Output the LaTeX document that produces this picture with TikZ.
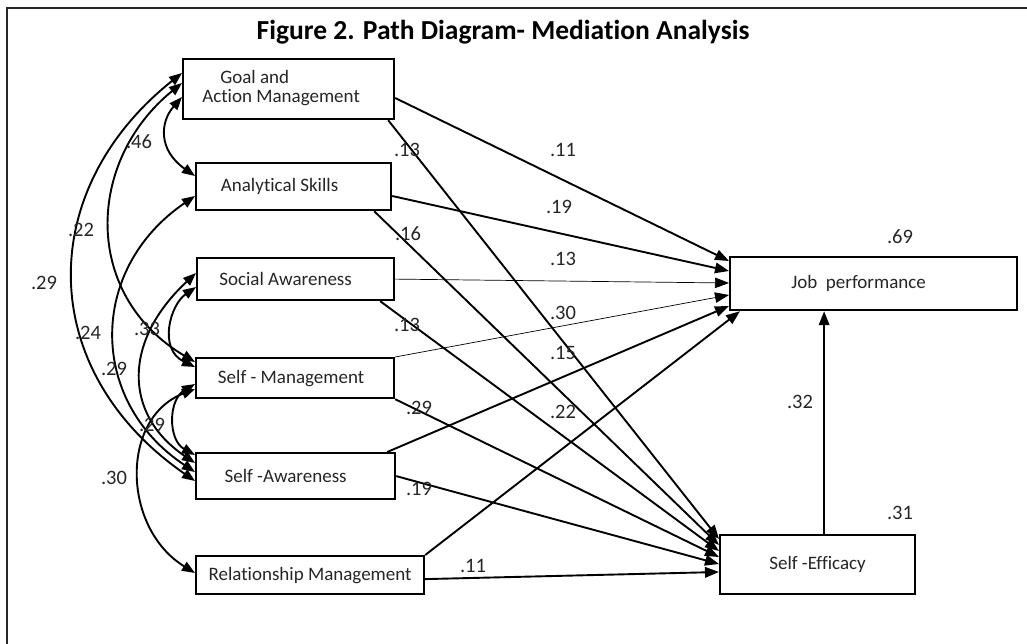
\documentclass[tikz,border=0pt]{standalone}
\usepackage{fontspec}
\setmainfont{Carlito}[Ligatures={NoCommon}]
\usetikzlibrary{arrows.meta,calc}
\begin{document}
\begin{tikzpicture}[x=1pt,y=-1pt,
  box/.style={draw, line width=2.2pt, anchor=north west, inner sep=0pt, font=\fontsize{19}{19}\selectfont, text=black!85},
  num/.style={font=\fontsize{20.5}{20.5}\selectfont, text=black!85, inner sep=0pt},
  reg/.style={line width=1.9pt, -{Triangle[length=14pt,width=10.5pt]}},
  thinreg/.style={line width=0.7pt, -{Triangle[length=14pt,width=10.5pt]}},
  cov/.style={line width=1.9pt, {Triangle[length=13pt,width=10pt]}-{Triangle[length=13pt,width=10pt]}},
]
\path[use as bounding box] (0,0) rectangle (1027,643);
\clip (0,0) rectangle (1027,643);
\fill[white] (0,0) rectangle (1027,643);
\draw[line width=2.2pt, black!85] (7,660) -- (7,8) -- (1040,8);

\node[font=\bfseries\fontsize{27.5}{27.5}\selectfont] (title) at (503,32) {Figure 2. Path Diagram- Mediation Analysis};

% boxes
\node[box, minimum width=211pt, minimum height=60pt] (goal) at (182,58) {\begin{tabular}{@{}l@{}}\hspace*{18pt}Goal and\\Action Management\end{tabular}\hspace*{15pt}};
\node[box, minimum width=195pt, minimum height=47pt] (anal) at (195,162) {Analytical Skills\hspace*{28pt}};
\node[box, minimum width=197pt, minimum height=42pt] (soc) at (196,257) {Social Awareness\hspace*{20pt}};
\node[box, minimum width=198pt, minimum height=40pt] (sm) at (195,357) {Self - Management\hspace*{8pt}};
\node[box, minimum width=199pt, minimum height=46pt] (sa) at (195,452) {Self -Awareness\hspace*{20pt}};
\node[box, minimum width=228pt, minimum height=38pt] (rm) at (195,555) {Relationship Management};
\node[box, minimum width=287pt, minimum height=53pt] (jp) at (729,256) {Job\hspace{0.45em}performance\hspace*{30pt}};
\node[box, minimum width=195pt, minimum height=59pt] (se) at (719,534) {Self -Efficacy};

% paths to job performance
\draw[reg] ($(goal.north east)+(0,40)$) -- ($(jp.north west)+(0,5)$);
\draw[reg] ($(anal.north east)+(0,34)$) -- ($(jp.north west)+(0,15)$);
\draw[thinreg] (soc.east) -- ($(jp.north west)+(0,27)$);
\draw[thinreg] (sm.north east) -- ($(jp.north west)+(0,39)$);
\draw[reg] ($(sa.north east)+(-9,0)$) -- ($(jp.north west)+(0,50)$);
\draw[reg] (rm.north east) -- ($(jp.south west)+(11,0)$);

% paths to self-efficacy
\draw[reg] ($(goal.south east)+(-7,0)$) -- ($(se.north west)+(0,5)$);
\draw[reg] ($(anal.south east)+(-18,0)$) -- ($(se.north west)+(0,11)$);
\draw[reg] ($(soc.south east)+(-15,0)$) -- ($(se.north west)+(0,17)$);
\draw[reg] (sm.south east) -- ($(se.north west)+(0,23)$);
\draw[reg] (sa.east) -- ($(se.north west)+(0,30)$);
\draw[reg] ($(rm.east)+(0,4)$) -- ($(se.north west)+(0,38)$);

\coordinate (sebase) at ($(se.north)+(6.5,0)$);
\draw[reg] (sebase) -- (sebase |- jp.south);

% covariances
\draw[cov] ($(goal.north west)+(0,15)$) .. controls +(-147,117) and +(-160,-111) .. ($(sa.north west)+(0,29)$);
\draw[cov] ($(goal.north west)+(0,25)$) .. controls +(-96,78) and +(-113,-67) .. ($(sm.north west)+(0,5)$);
\draw[cov] ($(goal.north west)+(0,39)$) .. controls +(-22,25) and +(-37,-26) .. ($(anal.north west)+(0,14)$);
\draw[cov] ($(anal.north west)+(0,34)$) .. controls +(-107,73) and +(-107,-71) .. ($(sa.north west)+(0,20)$);
\draw[cov] ($(soc.north west)+(0,16)$) .. controls +(-73,68) and +(-72,-49) .. ($(sa.north west)+(0,11)$);
\draw[cov] ($(soc.north west)+(0,30)$) .. controls +(-26,18) and +(-37,-18) .. ($(sm.north west)+(0,10)$);
\draw[cov] ($(sm.north west)+(0,27)$) .. controls +(-27,16) and +(-27,-15) .. ($(sa.north west)+(0,3)$);
\draw[cov] ($(sm.north west)+(0,32)$) .. controls +(-75,29) and +(-73,-45) .. ($(rm.north west)+(0,18)$);

% labels
\node[num] (n1) at (563,150) {.11};
\node[num] (n2) at (407,150) {.13};
\node[num] (n3) at (559,207) {.19};
\node[num] (n4) at (408,234) {.16};
\node[num] (n5) at (563,259) {.13};
\node[num] (n6) at (407,325) {.13};
\node[num] (n7) at (563,313) {.30};
\node[num] (n8) at (563,353) {.15};
\node[num] (n9) at (563,412) {.22};
\node[num] (n10) at (419,408) {.29};
\node[num] (n11) at (419,489) {.19};
\node[num] (n12) at (473,566) {.11};
\node[num] (n13) at (800,402) {.32};
\node[num] (n14) at (900,237) {.69};
\node[num] (n15) at (900,513) {.31};
\node[num] (n16) at (139,142) {.46};
\node[num] (n17) at (81,230) {.22};
\node[num] (n18) at (44,283) {.29};
\node[num] (n19) at (88,333) {.24};
\node[num] (n20) at (147,329) {.33};
\node[num] (n21) at (114,369) {.29};
\node[num] (n22) at (152,425) {.29};
\node[num] (n23) at (114,478) {.30};
\end{tikzpicture}
\end{document}
